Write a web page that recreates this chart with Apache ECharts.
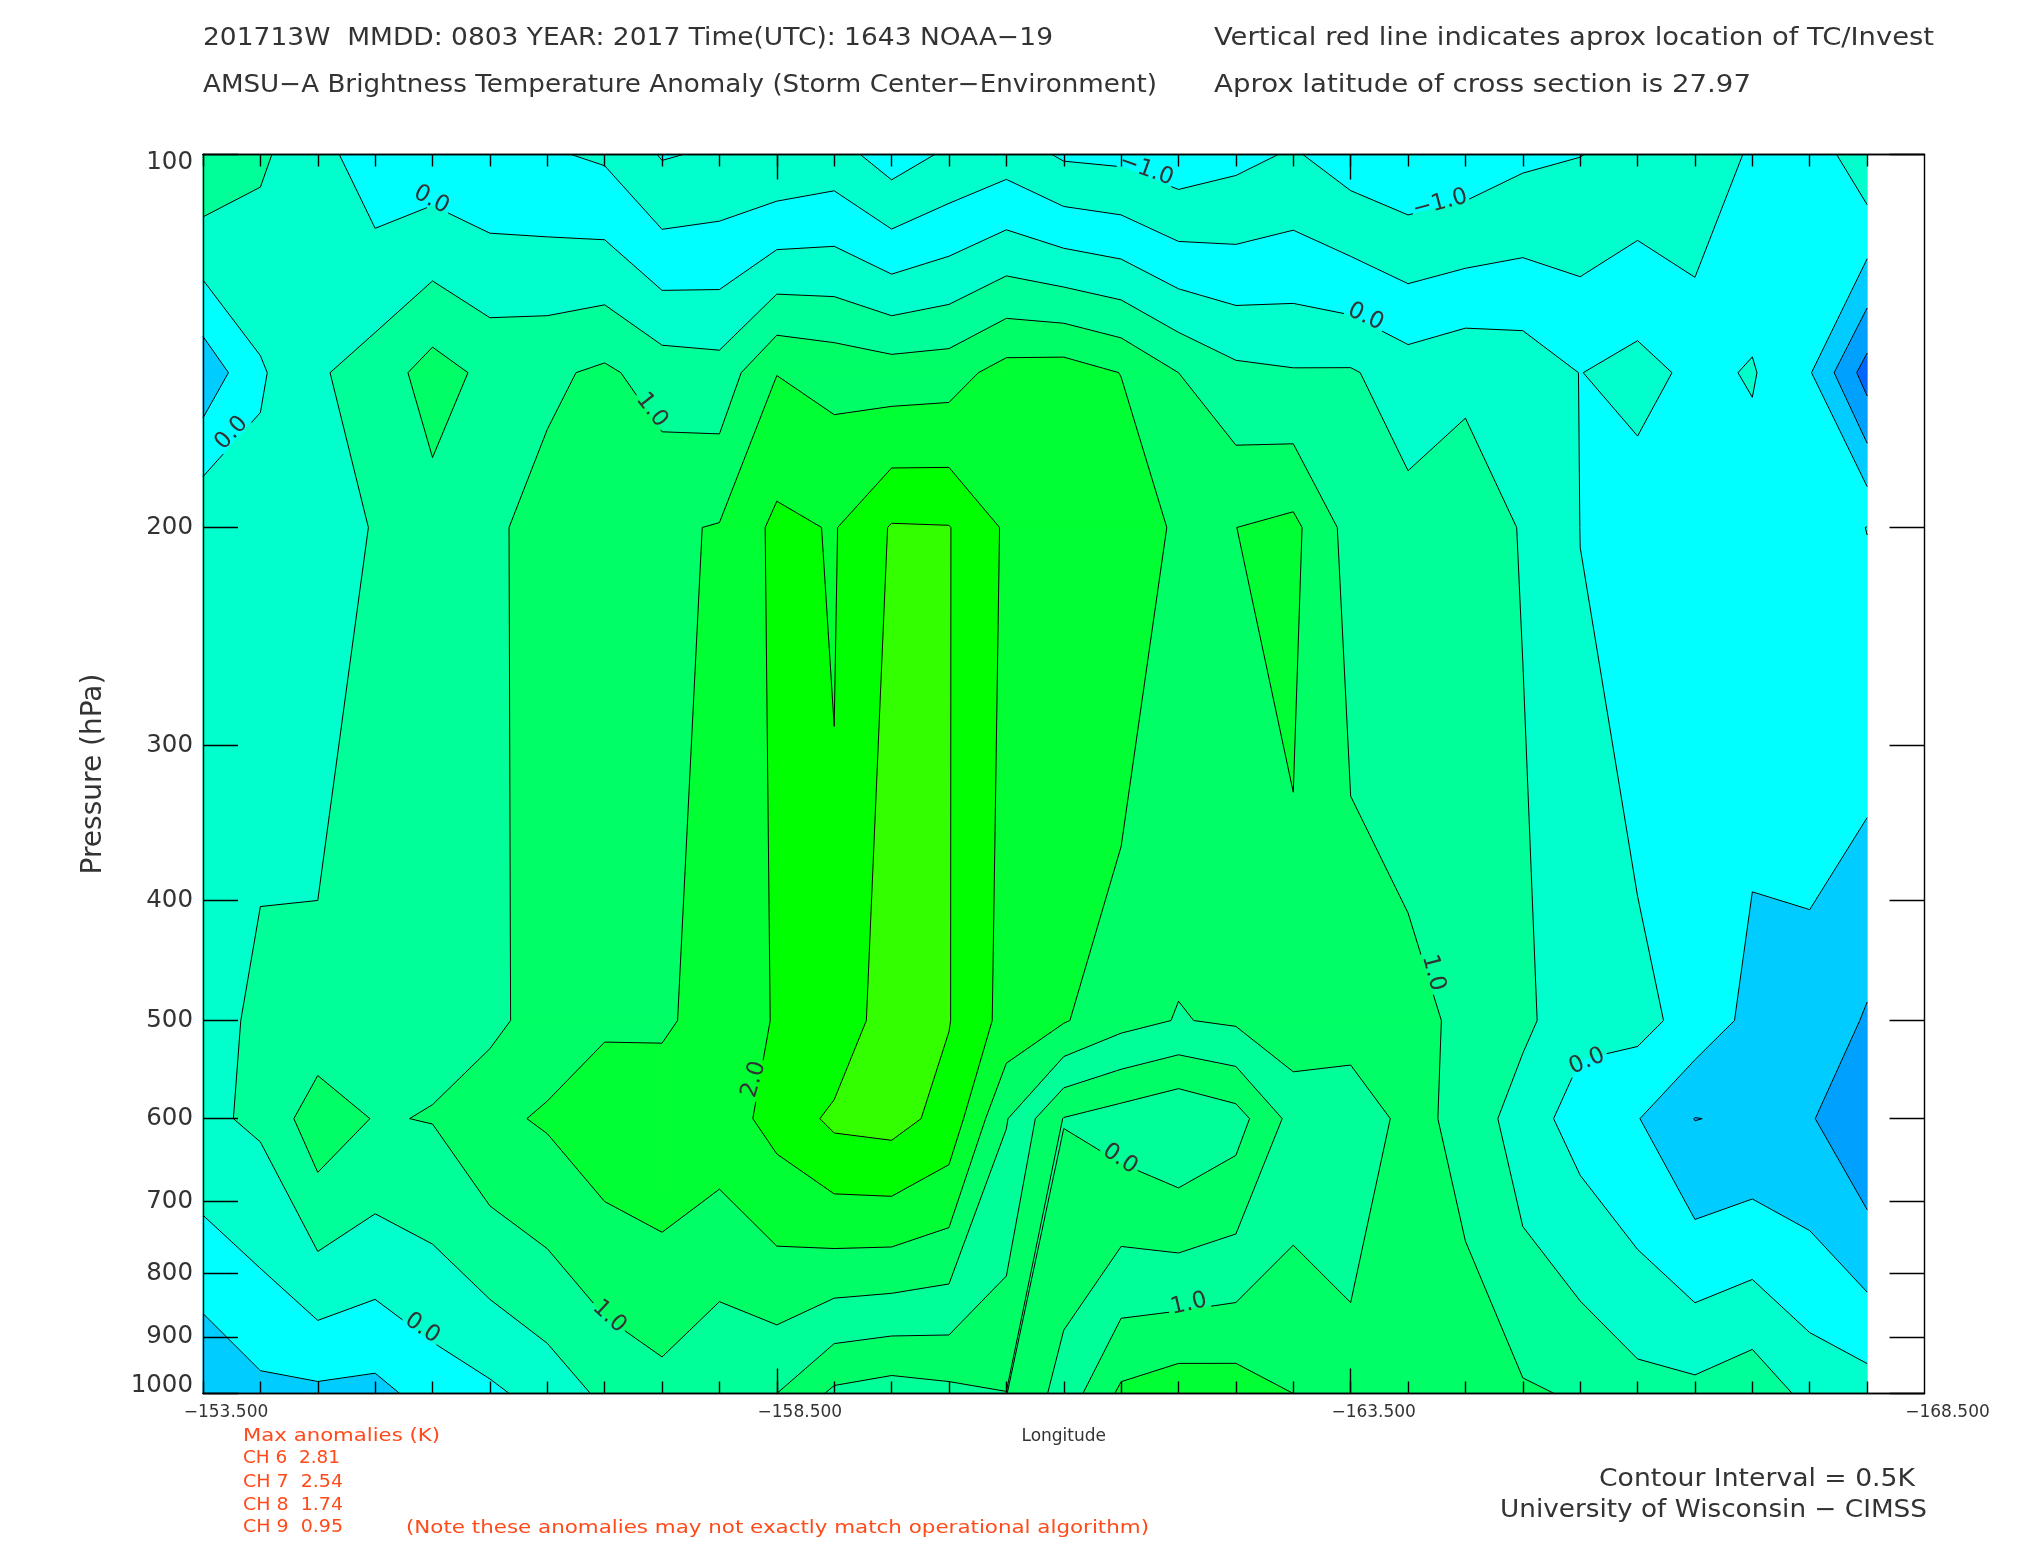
<!DOCTYPE html>
<html><head><meta charset="utf-8">
<style>html,body{margin:0;padding:0;background:#fff}#c{width:2025px;height:1550px}</style>
<script src="https://cdn.jsdelivr.net/npm/echarts@6/dist/echarts.min.js"></script>
</head><body><div id="c"></div>
<script>
// ---------- data ----------
const longitudes = [-153.5,-154,-154.5,-155,-155.5,-156,-156.5,-157,-157.5,-158,-158.5,-159,-159.5,-160,-160.5,-161,-161.5,-162,-162.5,-163,-163.5,-164,-164.5,-165,-165.5,-166,-166.5,-167,-167.5,-168];
const pressureRows = [100,150,200,500,600,1000];
const anomaly100 = [.94,.58,.18,-.30,-.30,-.40,-.45,-.57,-1.04,-.93,-.94,-.80,-1.24,-.92,-.73,-1.07,-1.12,-1.31,-1.14,-.95,-1.25,-1.39,-1.31,-1.10,-1.01,-.86,-.90,-.42,-.37,.42];
const anomaly150 = [-.85,-.06,.44,.72,1.21,.87,.91,1.09,.77,.70,1.49,1.35,1.25,1.29,1.70,1.74,1.49,1.00,.62,.54,.55,.25,.41,.32,-.01,.18,-.12,.04,-.46,-1.73];
const anomaly200 = [.48,.20,.20,.54,.80,.91,1.18,1.25,1.43,1.53,2.12,1.966,2.54,2.52,1.93,1.80,1.89,1.40,1.498,1.625,.81,.667,.75,.47,-.003,-.30,-.25,-.245,-.30,.01];
const anomaly500 = [.23,.64,.65,.80,.89,.855,1.257,1.423,1.40,1.77,2.03,2.08,2.83,2.52,1.83,1.54,1.167,.975,1.07,1.33,1.25,1.144,.896,.628,.116,.157,-.19,-.64,-.59,-1.06];
const anomaly600 = [.41,.58,1.30,.97,1.02,1.395,1.558,1.80,1.865,1.764,2.17,2.61,2.68,2.33,1.03,-.02,-.24,-.47,-.21,.67,.67,1.148,.863,.22,-.19,-.478,-1.01,-.93,-.95,-1.47];
const anomaly1000 = [-.98,-.625,-.605,-.65,-.30,-.10,.197,.60,.83,.507,.50,-.10,-.24,-.135,-.01,.70,1.60,1.81,1.77,1.50,1.21,1.30,1.22,1.06,.95,.68,.64,.85,.347,.23];
const levels = [-1.5,-1,-.5,0,.5,1,1.5,2,2.5];
const bandColors = ['#0066ff','#00a0ff','#00ccff','#00ffff','#00ffcc','#00ff99','#00ff66','#00ff33','#00ff00','#33ff00'];
// places where the original plot painted a band with another colour: [firstCol,lastCol,firstRow,lastRow,{bandIndex:color}]
const paintZones = [
  [2,27,0,0,{0:'#00ffff',1:'#00ffff',2:'#00ffcc'}],
  [10,18,3,4,{3:'#00ff99',4:'#00ff66'}]
];
const contourLabels = [
  ['0.0',-155.49,108.8,-28],['0.0',-153.75,167.8,47],['1.0',-157.41,160.8,-52],
  ['\u22121.0',-161.72,102.9,-20],['\u22121.0',-164.28,109.5,15],['0.0',-163.63,135.2,-25],
  ['0.0',-155.41,886,-34],['1.0',-157.04,867,-43],['2.0',-158.30,557.9,74],
  ['0.0',-161.49,646.7,-34],['1.0',-162.09,846.8,13],['1.0',-164.22,457.7,-75],['0.0',-165.56,539.5,23]
];
const pressureTicks = [100,200,300,400,500,600,700,800,900,1000];
const majorLonTicks = [-153.5,-158.5,-163.5,-168.5];
const titleFont = '"DejaVu Sans"';
// [text, left, baseline, target width, font size, colour]
const texts = [
  ['201713W  MMDD: 0803 YEAR: 2017 Time(UTC): 1643 NOAA\u221219',203,46,850,25,'#333'],
  ['Vertical red line indicates aprox location of TC/Invest',1214,46,720,25,'#333'],
  ['AMSU\u2212A Brightness Temperature Anomaly (Storm Center\u2212Environment)',203,93,954,25,'#333'],
  ['Aprox latitude of cross section is 27.97',1214,93,537,25,'#333'],
  ['Max anomalies (K)',243,1441,197,18,'#ff4a1a'],
  ['CH 6  2.81',243,1464,97,17,'#ff4a1a'],
  ['CH 7  2.54',243,1488,100,17,'#ff4a1a'],
  ['CH 8  1.74',243,1511,100,17,'#ff4a1a'],
  ['CH 9  0.95',243,1533,100,17,'#ff4a1a'],
  ['(Note these anomalies may not exactly match operational algorithm)',406,1533,743,18,'#ff4a1a'],
  ['Contour Interval = 0.5K',1599,1487,316,25,'#333'],
  ['University of Wisconsin \u2212 CIMSS',1500,1518,427,25,'#333']
];
// ---------- helpers ----------
const rows = [anomaly100,anomaly150,anomaly200,anomaly500,anomaly600,anomaly1000];
const cells = [];
for (let r=0;r<pressureRows.length-1;r++) for (let c=0;c<longitudes.length-1;c++) cells.push([longitudes[c],pressureRows[r],c,r]);
function corners(c,r){
  return [[longitudes[c],pressureRows[r],rows[r][c]],[longitudes[c+1],pressureRows[r],rows[r][c+1]],
          [longitudes[c+1],pressureRows[r+1],rows[r+1][c+1]],[longitudes[c],pressureRows[r+1],rows[r+1][c]]];
}
// a cell that is a saddle at some contour level is cut along the diagonal joining its two low corners
function cellPieces(c,r){
  const q=corners(c,r),a=q[0][2],b=q[1][2],d=q[2][2],e=q[3][2];
  const between=(lo,hi)=>levels.some(l=>l>lo&&l<=hi);
  if(Math.min(a,d)>Math.max(b,e)&&between(Math.max(b,e),Math.min(a,d)))return [[q[0],q[1],q[3]],[q[1],q[2],q[3]]];
  if(Math.min(b,e)>Math.max(a,d)&&between(Math.max(a,d),Math.min(b,e)))return [[q[0],q[1],q[2]],[q[0],q[2],q[3]]];
  return [q];
}
function lerp(a,b,l){const t=(l-a[2])/(b[2]-a[2]);return [a[0]+t*(b[0]-a[0]),a[1]+t*(b[1]-a[1]),l];}
function clip(poly,l,keepAbove){
  const out=[];
  for(let i=0;i<poly.length;i++){
    const a=poly[i],b=poly[(i+1)%poly.length];
    const ia=keepAbove?a[2]>=l:a[2]<l, ib=keepAbove?b[2]>=l:b[2]<l;
    if(ia)out.push(a);
    if(ia!==ib)out.push(lerp(a,b,l));
  }
  return out;
}
function bandColor(c,r,i){
  for(const z of paintZones) if(c>=z[0]&&c<=z[1]&&r>=z[2]&&r<=z[3]&&z[4][i]) return z[4][i];
  return bandColors[i];
}
function renderFill(params,api){
  const c=api.value(2),r=api.value(3),children=[];
  for(const piece of cellPieces(c,r)){
    for(let i=0;i<bandColors.length;i++){
      let poly=piece;
      if(i>0)poly=clip(poly,levels[i-1],true);
      if(poly.length>2&&i<levels.length)poly=clip(poly,levels[i],false);
      if(poly.length<3)continue;
      const col=bandColor(c,r,i);
      children.push({type:'polygon',shape:{points:poly.map(p=>api.coord([p[0],p[1]]))},style:{fill:col,stroke:col,lineWidth:1}});
    }
  }
  return {type:'group',children};
}
function cellSegments(c,r,l){
  const q=corners(c,r),ab=q.map(p=>p[2]>=l);
  const cross=[];
  for(let i=0;i<4;i++){const j=(i+1)%4;cross.push(ab[i]!==ab[j]?lerp(q[i],q[j],l):null);}
  const n=cross.filter(Boolean).length;
  if(n===2){const k=cross.filter(Boolean);return [[k[0],k[1]]];}
  if(n===4){
    if(ab[0])return [[cross[0],cross[3]],[cross[1],cross[2]]];
    return [[cross[0],cross[1]],[cross[2],cross[3]]];
  }
  return [];
}
// keep only the parts of segment p-q outside the label boxes
function gaps(p,q,boxes){
  let parts=[[0,1]];
  for(const b of boxes){
    const ca=Math.cos(b.a),sa=Math.sin(b.a);
    const ux=(p[0]-b.x)*ca+(p[1]-b.y)*sa, uy=-(p[0]-b.x)*sa+(p[1]-b.y)*ca;
    const vx=(q[0]-b.x)*ca+(q[1]-b.y)*sa-ux, vy=-(q[0]-b.x)*sa+(q[1]-b.y)*ca-uy;
    let t0=0,t1=1;
    const lim=[[-vx,ux+b.w],[vx,b.w-ux],[-vy,uy+b.h],[vy,b.h-uy]];
    let hit=true;
    for(const [d,e] of lim){
      if(d===0){if(e<0)hit=false;continue;}
      const t=e/d;
      if(d<0){if(t>t0)t0=t;}else{if(t<t1)t1=t;}
    }
    if(!hit||t0>=t1)continue;
    const next=[];
    for(const [s,e] of parts){
      if(t1<=s||t0>=e){next.push([s,e]);continue;}
      if(t0>s)next.push([s,t0]);
      if(t1<e)next.push([t1,e]);
    }
    parts=next;
  }
  return parts;
}
function labelBoxes(api){
  return contourLabels.map(l=>{
    const pt=api.coord([l[1],l[2]]);
    return {x:pt[0],y:pt[1],a:-l[3]*Math.PI/180,w:l[0].length>3?29:21,h:9};
  });
}
function renderLines(params,api){
  const c=api.value(2),r=api.value(3),children=[],boxes=labelBoxes(api);
  for(const l of levels){
    for(const seg of cellSegments(c,r,l)){
      const p=api.coord([seg[0][0],seg[0][1]]),q=api.coord([seg[1][0],seg[1][1]]);
      for(const [s,e] of gaps(p,q,boxes)){
        children.push({type:'line',shape:{x1:p[0]+s*(q[0]-p[0]),y1:p[1]+s*(q[1]-p[1]),x2:p[0]+e*(q[0]-p[0]),y2:p[1]+e*(q[1]-p[1])},style:{stroke:'#000',lineWidth:1}});
      }
    }
  }
  return {type:'group',children};
}
function renderLabel(params,api){
  const l=contourLabels[params.dataIndex],pt=api.coord([l[1],l[2]]);
  return {type:'text',x:pt[0],y:pt[1],rotation:l[3]*Math.PI/180,
    style:{text:l[0],fontFamily:titleFont,fontSize:23,fill:'#333',align:'center',verticalAlign:'middle'}};
}
const meas=document.createElement('canvas').getContext('2d');
const graphics=texts.map(t=>{
  meas.font=t[4]+'px "DejaVu Sans"';
  const sx=t[3]/meas.measureText(t[0]).width;
  return {type:'text',left:t[1],top:t[2]-Math.round(t[4]*0.8),scaleX:sx,silent:true,
    style:{text:t[0],fontFamily:titleFont,fontSize:t[4],fill:t[5]}};
});
const xBase={type:'value',min:-168.5,max:-153.5,inverse:true,gridIndex:0,z:10,splitLine:{show:false},axisLabel:{show:false},axisLine:{show:true,onZero:false,lineStyle:{color:'#000',width:1.4}}};
const lineBlack={color:'#000',width:1.4};
const labelRich={fontFamily:titleFont,fontSize:24.5,color:'#333'};
const option={
  animation:false,backgroundColor:'#fff',
  grid:{left:203,top:154.5,width:1721.5,height:1239,show:false},
  graphic:graphics,
  xAxis:[
    Object.assign({},xBase,{position:'bottom',name:'Longitude',nameLocation:'middle',nameGap:35,
      nameTextStyle:{fontFamily:titleFont,fontSize:17,color:'#333'},
      axisTick:{show:true,inside:true,length:12,customValues:longitudes,lineStyle:lineBlack},
      axisLabel:{show:true,customValues:majorLonTicks,margin:11,fontFamily:titleFont,fontSize:17,color:'#333',padding:[0,0,0,46],
        showMinLabel:true,showMaxLabel:true,hideOverlap:false,
        formatter:v=>'\u2212'+Math.abs(v).toFixed(3)}}),
    Object.assign({},xBase,{position:'bottom',axisTick:{show:true,inside:true,length:25,customValues:[-158.5,-163.5],lineStyle:lineBlack}}),
    Object.assign({},xBase,{position:'top',axisTick:{show:true,inside:true,length:12,customValues:longitudes,lineStyle:lineBlack}}),
    Object.assign({},xBase,{position:'top',axisTick:{show:true,inside:true,length:25,customValues:[-158.5,-163.5],lineStyle:lineBlack}})
  ],
  yAxis:[
    {type:'log',logBase:10,min:100,max:1000,inverse:true,position:'left',z:10,name:'Pressure (hPa)',nameLocation:'middle',nameGap:95,nameRotate:90,
      nameTextStyle:{fontFamily:titleFont,fontSize:28,color:'#333'},splitLine:{show:false},
      axisLine:{show:true,onZero:false,lineStyle:lineBlack},
      axisTick:{show:true,inside:true,length:35,customValues:pressureTicks,lineStyle:lineBlack},minorTick:{show:false},
      axisLabel:{customValues:pressureTicks,margin:10,fontFamily:titleFont,fontSize:24.5,color:'#333',showMinLabel:true,showMaxLabel:true,hideOverlap:false,
        rich:{first:Object.assign({padding:[16,0,0,0]},labelRich),last:Object.assign({padding:[0,0,16,0]},labelRich)},
        formatter:v=>{const n=Math.round(v);return n===100?'{first|100}':n===1000?'{last|1000}':String(n);}}},
    {type:'log',logBase:10,min:100,max:1000,inverse:true,position:'right',z:10,splitLine:{show:false},
      axisLine:{show:true,onZero:false,lineStyle:lineBlack},
      axisTick:{show:true,inside:true,length:35,customValues:pressureTicks,lineStyle:lineBlack},minorTick:{show:false},axisLabel:{show:false}}
  ],
  series:[
    {type:'custom',z:2,xAxisIndex:0,yAxisIndex:0,clip:false,silent:true,renderItem:renderFill,encode:{x:0,y:1},data:cells},
    {type:'custom',z:3,xAxisIndex:0,yAxisIndex:0,clip:false,silent:true,renderItem:renderLines,encode:{x:0,y:1},data:cells},
    {type:'custom',z:4,xAxisIndex:0,yAxisIndex:0,clip:false,silent:true,renderItem:renderLabel,encode:{x:1,y:2},data:contourLabels.map(l=>[l[0],l[1],l[2]])}
  ]
};
echarts.init(document.getElementById('c'),null,{renderer:'canvas'}).setOption(option);
</script></body></html>
